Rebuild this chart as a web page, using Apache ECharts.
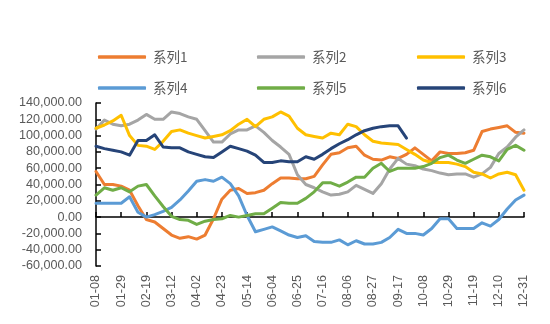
<!DOCTYPE html>
<html>
<head>
<meta charset="utf-8">
<script src="https://cdn.jsdelivr.net/npm/echarts@6/dist/echarts.min.js"></script>
<style>html,body{margin:0;padding:0;background:#fff;}#c{width:550px;height:324px;}</style>
</head>
<body>
<div id="c"></div>
<script>
var dates = ['01-08','01-15','01-22','01-29','02-05','02-12','02-19','02-26','03-05','03-12','03-19','03-26','04-02','04-09','04-16','04-23','04-30','05-07','05-14','05-21','05-28','06-04','06-11','06-18','06-25','07-02','07-09','07-16','07-23','07-30','08-06','08-13','08-20','08-27','09-03','09-10','09-17','09-24','10-01','10-08','10-15','10-22','10-29','11-05','11-12','11-19','11-26','12-03','12-10','12-17','12-24','12-31'];
var seriesNames = ['系列1','系列2','系列3','系列4','系列5','系列6'];
var s1 = [56000,40000,40000,38000,33000,14000,-3000,-6000,-14000,-22000,-26000,-24000,-27000,-22000,-2000,22000,33000,35000,29000,30000,33000,41000,48000,48000,47000,47000,50000,64000,77000,79000,85000,87000,76000,71000,70000,74000,72000,77000,85000,77000,69000,80000,78000,78000,79000,82000,105000,108000,110000,112000,104000,103000];
var s2 = [108000,119000,114000,112000,114000,119000,126000,120000,120000,129000,127000,123000,120000,106000,92000,92000,102000,107000,107000,112000,104000,94000,86000,77000,52000,40000,36000,31000,27000,28000,31000,39000,34000,29000,41000,59000,72000,65000,63000,59000,57000,54000,52000,53000,53000,49000,53000,61000,78000,86000,98000,107000];
var s3 = [109000,113000,118000,125000,100000,88000,87000,83000,93000,105000,107000,103000,100000,97000,99000,101000,106000,114000,120000,111000,120000,123000,129000,124000,109000,101000,99000,97000,103000,101000,114000,111000,101000,93000,91000,90000,89000,83000,77000,70000,67000,67000,67000,65000,62000,55000,53000,48000,53000,55000,52000,33000];
var s4 = [17000,17000,17000,17000,25000,6000,0,3000,7000,12000,21000,32000,44000,46000,44000,49000,41000,26000,2000,-18000,-15000,-12000,-17000,-22000,-25000,-23000,-30000,-31000,-31000,-28000,-34000,-29000,-33000,-33000,-31000,-25000,-15000,-20000,-20000,-22000,-14000,-2000,-2000,-14000,-14000,-14000,-7000,-11000,-3000,10000,21000,27000];
var s5 = [27000,36000,33000,36000,31000,38000,40000,26000,13000,1000,-3000,-4000,-9000,-5000,-3000,-2000,2000,0,2000,4000,4000,11000,18000,17000,17000,23000,31000,42000,42000,38000,43000,49000,49000,60000,66000,56000,60000,60000,60000,62000,66000,73000,76000,70000,66000,71000,76000,74000,69000,83000,88000,82000];
var s6 = [87000,84000,82000,80000,76000,94000,94000,101000,86000,85000,85000,80000,77000,74000,73000,80000,87000,84000,81000,76000,67000,67000,69000,68000,68000,74000,71000,77000,84000,90000,95000,101000,106000,109000,111000,112000,112000,97000];
var colors = ['#ED7D31','#A5A5A5','#FFC000','#5B9BD5','#70AD47','#264478'];
var allData = [s1,s2,s3,s4,s5,s6];

function fmt(v){
  var neg = v < 0; var a = Math.abs(v);
  var s = Math.round(a).toString().replace(/\B(?=(\d{3})+(?!\d))/g, ',');
  return (neg ? '-' : '') + s + '.00';
}

var legendPos = [[98,49],[257,49],[417,49],[98,80],[257,80],[417,80]];
var legends = seriesNames.map(function(n,i){
  return {
    data:[n], left: legendPos[i][0], top: legendPos[i][1],
    icon:'roundRect', itemWidth:48, itemHeight:3.5, padding:0,
    textStyle:{color:'#595959', fontSize:13.5, fontFamily:'Noto Sans CJK SC', lineHeight:16, padding:[0,0,0,2]}
  };
});

var chart = echarts.init(document.getElementById('c'));
chart.setOption({
  animation:false,
  color: colors,
  legend: legends,
  grid:{left:96, right:26, top:103, bottom:58, containLabel:false},
  xAxis:[
    {type:'category', data:dates, boundaryGap:false, position:'bottom',
     axisLine:{show:false, onZero:false}, axisTick:{show:false},
     axisLabel:{interval:2, rotate:90, margin:9, color:'#595959', fontSize:12.6, fontFamily:'Liberation Sans'},
     splitLine:{show:false}},
    {type:'category', data:dates, boundaryGap:false, position:'bottom',
     axisLine:{show:true, onZero:true, lineStyle:{color:'#000', width:1.5}},
     axisTick:{show:true, inside:true, interval:2, length:5, lineStyle:{color:'#000', width:1.5}},
     axisLabel:{show:false}, splitLine:{show:false}}
  ],
  yAxis:{type:'value', min:-60000, max:140000, interval:20000,
    axisLine:{show:true, lineStyle:{color:'#000', width:1.5}},
    axisTick:{show:true, inside:true, length:5, lineStyle:{color:'#000', width:1.5}},
    axisLabel:{margin:14, color:'#595959', fontSize:12.6, fontFamily:'Liberation Sans', formatter:fmt},
    splitLine:{show:false}},
  series: allData.map(function(d,i){
    return {name:seriesNames[i], type:'line', data:d, xAxisIndex:0, showSymbol:false, symbol:'none',
      lineStyle:{width:3, color:colors[i], cap:'round', join:'round'}, itemStyle:{color:colors[i]}};
  })
});
</script>
</body>
</html>
